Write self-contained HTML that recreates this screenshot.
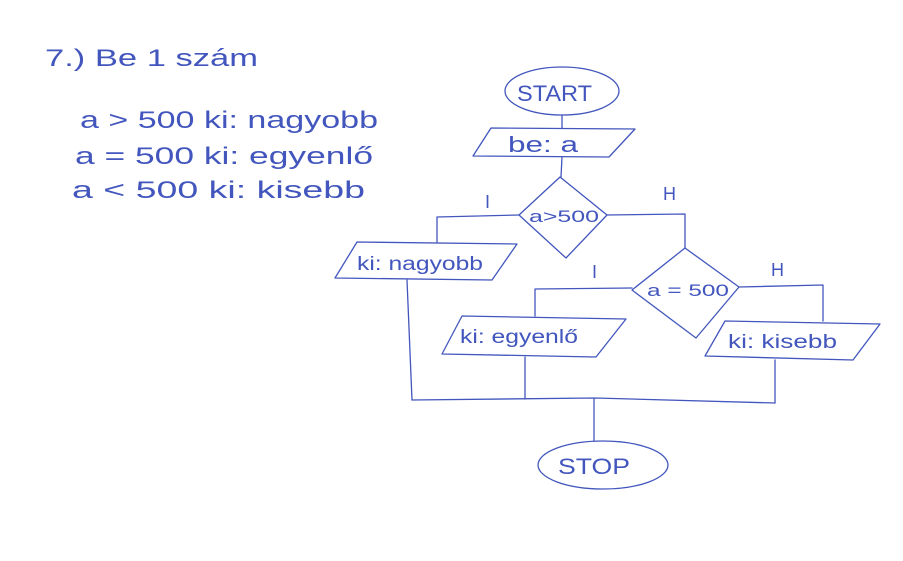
<!DOCTYPE html>
<html><head><meta charset="utf-8"><style>
html,body{margin:0;padding:0;background:#fff;}
svg{display:block;}
text{font-family:"Liberation Sans",sans-serif;fill:#4256bd;}
</style></head><body>
<svg width="903" height="561" viewBox="0 0 903 561" xmlns="http://www.w3.org/2000/svg">
<rect width="903" height="561" fill="#fff"/>
<g fill="none" stroke="#4256bd" stroke-width="1.3" stroke-linejoin="round" stroke-linecap="round">
<!-- START -->
<ellipse cx="562" cy="91" rx="57" ry="24"/>
<line x1="562" y1="115" x2="562" y2="128"/>
<!-- be:a -->
<polygon points="491,128 635,129 609,157 473,156"/>
<line x1="562" y1="157" x2="561" y2="177"/>
<!-- diamond1 -->
<polygon points="560,177 607,215 566,258 519,215"/>
<polyline points="519,215 437,217 437,242"/>
<polyline points="607,215 685,214 685,248"/>
<!-- nagyobb -->
<polygon points="357,242 517,244 492,280 335,278"/>
<!-- diamond2 -->
<polygon points="685,248 739,287 696,338 632,290"/>
<polyline points="632,288 535,289 535,316"/>
<polyline points="739,287 823,285 823,321"/>
<!-- egyenlo -->
<polygon points="462,316 626,319 596,357 442,354"/>
<!-- kisebb -->
<polygon points="725,321 880,324 853,360 705,356"/>
<!-- bottom -->
<line x1="407" y1="280" x2="412" y2="400"/>
<line x1="525" y1="357" x2="525" y2="399"/>
<line x1="775" y1="360" x2="775" y2="403"/>
<polyline points="412,400 595,398 775,403"/>
<line x1="594" y1="399" x2="594" y2="441"/>
<ellipse cx="603" cy="465" rx="65" ry="24"/>
</g>
<g font-size="22">
<text x="517" y="101" textLength="75" lengthAdjust="spacingAndGlyphs">START</text>
<text x="508" y="152" textLength="70" lengthAdjust="spacingAndGlyphs">be: a</text>
<text x="529" y="222" font-size="17" textLength="70" lengthAdjust="spacingAndGlyphs">a&gt;500</text>
<text x="485" y="208" font-size="18">I</text>
<text x="663" y="200" font-size="18">H</text>
<text x="357" y="270" font-size="19" textLength="126" lengthAdjust="spacingAndGlyphs">ki: nagyobb</text>
<text x="647" y="296" font-size="17" textLength="82" lengthAdjust="spacingAndGlyphs">a = 500</text>
<text x="592" y="278" font-size="18">I</text>
<text x="771" y="276" font-size="18">H</text>
<text x="460" y="343" font-size="19" textLength="118" lengthAdjust="spacingAndGlyphs">ki: egyenlő</text>
<text x="728" y="348" font-size="19" textLength="109" lengthAdjust="spacingAndGlyphs">ki: kisebb</text>
<text x="558" y="474" textLength="72" lengthAdjust="spacingAndGlyphs">STOP</text>
</g>
<g font-size="24">
<text x="45" y="66" textLength="213" lengthAdjust="spacingAndGlyphs">7.) Be 1 szám</text>
<text x="80" y="128" textLength="298" lengthAdjust="spacingAndGlyphs">a &gt; 500  ki: nagyobb</text>
<text x="75" y="164" textLength="298" lengthAdjust="spacingAndGlyphs">a = 500  ki: egyenlő</text>
<text x="72" y="198" textLength="293" lengthAdjust="spacingAndGlyphs">a &lt; 500  ki: kisebb</text>
</g>
</svg>
</body></html>
